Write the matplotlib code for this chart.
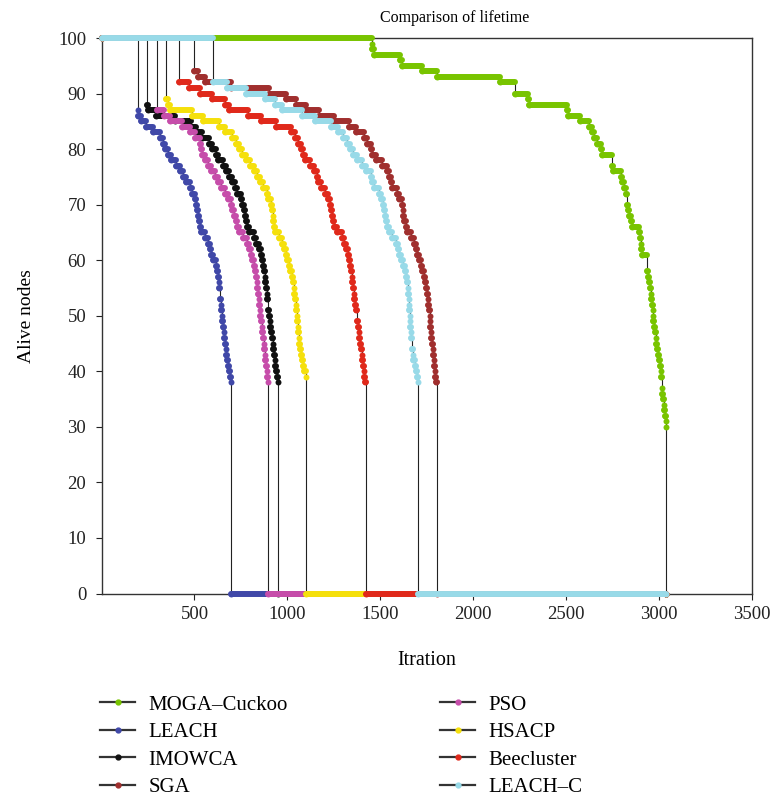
import matplotlib
matplotlib.use('Agg')
import matplotlib.pyplot as plt
from matplotlib.lines import Line2D

plt.rcParams['font.family'] = ['Liberation Serif', 'DejaVu Serif']

names = ["MOGA–Cuckoo", "LEACH", "IMOWCA", "SGA", "PSO", "HSACP", "Beecluster", "LEACH–C"]
colors = ["#78c400", "#4048a8", "#111111", "#a02f2e", "#c64daa", "#f5e00c", "#e0291b", "#98dae8"]

# rounds where the number of alive nodes changes, and the new count
moga_rounds = [1454, 1456, 1468, 1606, 1616, 1722, 1804, 2146, 2226, 2297,
               2300, 2505, 2510, 2577, 2622, 2640, 2649, 2667, 2685, 2694,
               2748, 2752, 2793, 2802, 2811, 2820, 2829, 2832, 2838, 2847,
               2856, 2892, 2897, 2901, 2904, 2910, 2937, 2943, 2947, 2950,
               2954, 2958, 2961, 2965, 2967, 2970, 2974, 2978, 2981, 2985,
               2988, 2993, 2999, 3004, 3008, 3012, 3014, 3017, 3021, 3025,
               3028, 3032, 3035, 3039]
moga_alive = [99, 98, 97, 96, 95, 94, 93, 92, 90, 89,
              88, 87, 86, 85, 84, 83, 82, 81, 80, 79,
              77, 76, 75, 74, 73, 72, 70, 69, 68, 67,
              66, 65, 64, 63, 62, 61, 58, 57, 56, 55,
              54, 53, 52, 51, 50, 49, 48, 47, 46, 45,
              44, 43, 42, 41, 40, 39, 37, 36, 35, 34,
              33, 32, 31, 30]

leach_rounds = [196, 198, 214, 241, 277, 313, 331, 340, 357, 376,
                403, 420, 438, 456, 474, 489, 501, 510, 516, 519,
                525, 531, 537, 555, 573, 582, 591, 600, 614, 621,
                627, 631, 634, 638, 641, 644, 647, 650, 654, 657,
                661, 664, 668, 672, 676, 681, 686, 691, 695]
leach_alive = [87, 86, 85, 84, 83, 82, 81, 80, 79, 78,
               77, 76, 75, 74, 73, 72, 71, 70, 69, 68,
               67, 66, 65, 64, 63, 62, 61, 60, 59, 58,
               57, 56, 55, 53, 52, 51, 50, 49, 48, 47,
               46, 45, 44, 43, 42, 41, 40, 39, 38]

imowca_rounds = [246, 250, 292, 393, 480, 508, 543, 580, 597, 614,
                 629, 651, 668, 686, 704, 720, 731, 749, 758, 765,
                 770, 775, 785, 795, 821, 832, 845, 857, 863, 869,
                 874, 878, 882, 886, 889, 892, 898, 902, 906, 909,
                 913, 917, 921, 925, 928, 931, 935, 939, 943, 947]
imowca_alive = [88, 87, 86, 85, 84, 83, 82, 81, 80, 79,
                78, 77, 76, 75, 74, 73, 72, 71, 70, 69,
                68, 67, 66, 65, 64, 63, 62, 61, 60, 59,
                58, 57, 56, 55, 54, 53, 51, 50, 49, 48,
                47, 46, 45, 44, 43, 42, 41, 40, 39, 38]

sga_rounds = [498, 518, 555, 694, 900, 990, 1044, 1098, 1170, 1251,
              1332, 1368, 1413, 1430, 1448, 1457, 1475, 1511, 1538, 1547,
              1556, 1565, 1592, 1601, 1619, 1621, 1624, 1628, 1637, 1646,
              1664, 1682, 1691, 1700, 1709, 1718, 1727, 1736, 1741, 1745,
              1750, 1756, 1759, 1761, 1765, 1766, 1770, 1772, 1775, 1779,
              1782, 1785, 1788, 1791, 1794, 1797, 1800]
sga_alive = [94, 93, 92, 91, 90, 89, 88, 87, 86, 85,
             84, 83, 82, 81, 80, 79, 78, 77, 76, 75,
             74, 73, 72, 71, 70, 69, 68, 67, 66, 65,
             64, 63, 62, 61, 60, 59, 58, 57, 56, 55,
             54, 53, 52, 51, 50, 49, 48, 47, 46, 45,
             44, 43, 42, 41, 40, 39, 38]

pso_rounds = [298, 334, 370, 433, 478, 505, 528, 537, 542, 555,
              573, 591, 609, 627, 645, 663, 681, 695, 704, 713,
              722, 730, 740, 762, 783, 794, 803, 812, 820, 825,
              830, 834, 838, 841, 845, 848, 852, 854, 857, 861,
              864, 868, 872, 875, 879, 882, 886, 890, 893, 897]
pso_alive = [87, 86, 85, 84, 83, 82, 81, 80, 79, 78,
             77, 76, 75, 74, 73, 72, 71, 70, 69, 68,
             67, 66, 65, 64, 63, 62, 61, 60, 59, 58,
             57, 56, 55, 54, 53, 52, 51, 50, 49, 48,
             47, 46, 45, 44, 43, 42, 41, 40, 39, 38]

hsacp_rounds = [349, 357, 366, 485, 548, 630, 667, 703, 726, 740,
                758, 777, 797, 820, 836, 855, 871, 888, 898, 910,
                916, 920, 924, 928, 936, 955, 972, 982, 990, 1000,
                1008, 1016, 1023, 1030, 1034, 1038, 1041, 1044, 1047, 1050,
                1053, 1056, 1059, 1062, 1065, 1068, 1073, 1078, 1083, 1090,
                1098]
hsacp_alive = [89, 88, 87, 86, 85, 84, 83, 82, 81, 80,
               79, 78, 77, 76, 75, 74, 73, 72, 71, 70,
               69, 68, 67, 66, 65, 64, 63, 62, 61, 60,
               59, 58, 57, 56, 55, 54, 53, 52, 51, 50,
               49, 48, 47, 46, 45, 44, 43, 42, 41, 40,
               39]

bee_rounds = [417, 470, 532, 597, 663, 688, 790, 860, 940, 1020,
              1040, 1058, 1076, 1085, 1094, 1122, 1144, 1157, 1166, 1180,
              1202, 1220, 1229, 1234, 1238, 1243, 1250, 1268, 1292, 1304,
              1315, 1324, 1331, 1337, 1342, 1346, 1350, 1354, 1358, 1361,
              1364, 1368, 1375, 1379, 1383, 1387, 1391, 1395, 1399, 1403,
              1407, 1411, 1415, 1419]
bee_alive = [92, 91, 90, 89, 88, 87, 86, 85, 84, 83,
             82, 81, 80, 79, 78, 77, 76, 75, 74, 73,
             72, 71, 70, 69, 68, 67, 66, 65, 64, 63,
             62, 61, 60, 59, 58, 57, 56, 55, 54, 53,
             52, 51, 49, 48, 47, 46, 45, 44, 43, 42,
             41, 40, 39, 38]

leachc_rounds = [600, 676, 775, 882, 936, 972, 1080, 1150, 1233, 1272,
                 1301, 1319, 1337, 1355, 1376, 1404, 1421, 1448, 1457, 1466,
                 1493, 1502, 1515, 1519, 1526, 1529, 1538, 1547, 1565, 1583,
                 1597, 1601, 1610, 1624, 1633, 1637, 1642, 1648, 1651, 1653,
                 1655, 1656, 1658, 1660, 1662, 1664, 1665, 1669, 1674, 1678,
                 1687, 1692, 1696, 1702]
leachc_alive = [92, 91, 90, 89, 88, 87, 86, 85, 84, 83,
                82, 81, 80, 79, 78, 77, 76, 75, 74, 73,
                72, 71, 70, 69, 68, 67, 66, 65, 64, 63,
                62, 61, 60, 59, 58, 57, 56, 55, 54, 53,
                52, 51, 50, 49, 48, 47, 46, 44, 43, 42,
                41, 40, 39, 38]

# round where the last nodes die (drop to 0) and end of the run
end_rounds = [3040, 697, 948, 1804, 898, 1100, 1421, 1704]
last_round = 3040
n_nodes = 100

all_rounds = [moga_rounds, leach_rounds, imowca_rounds, sga_rounds,
              pso_rounds, hsacp_rounds, bee_rounds, leachc_rounds]
all_alive = [moga_alive, leach_alive, imowca_alive, sga_alive,
             pso_alive, hsacp_alive, bee_alive, leachc_alive]

fig = plt.figure(figsize=(7.75, 7.97), dpi=100)
ax = fig.add_axes([0.131, 0.2553, 0.8393, 0.697])

for i in range(len(names)):
    xs = [0] + all_rounds[i] + [end_rounds[i], last_round]
    ys = [n_nodes] + all_alive[i] + [0, 0]
    z = 3 + i
    ax.plot(xs, ys, drawstyle='steps-post', color='#222222', lw=0.8,
            zorder=z, clip_on=False)
    ax.hlines(ys[:-1], xs[:-1], xs[1:], colors=colors[i], lw=4.3,
              capstyle='round', zorder=z, clip_on=False)
    ax.plot(xs, ys, 'o', color=colors[i], ms=4.3, mec=colors[i], mew=0,
            zorder=z, clip_on=False)

ax.set_xlim(0, 3500)
ax.set_ylim(0, 100)
ax.set_xticks([500, 1000, 1500, 2000, 2500, 3000, 3500])
ax.set_yticks(range(0, 101, 10))
ax.tick_params(direction='out', length=4, width=0.8, labelsize=13.5,
               colors='#222222')
ax.tick_params(axis='y', pad=7)
ax.tick_params(axis='x', pad=5)
for s in ax.spines.values():
    s.set_linewidth(1.0)
    s.set_color('#333333')

ax.set_xlabel("Itration", fontsize=14.5, labelpad=20)
ax.set_ylabel("Alive nodes", fontsize=14, labelpad=17)
fig.text(455 / 775, 1 - 18 / 797, "Comparison of lifetime", fontsize=11.5,
         ha='center', va='center')

handles = [Line2D([], [], color='#333333', lw=1.6, marker='o', ms=3.5,
                  mfc=c, mec=c) for c in colors]
fig.legend(handles[:4], names[:4], loc='upper left',
           bbox_to_anchor=(100 / 775, 1 - 695 / 797), frameon=False,
           fontsize=15, handlelength=1.7, handletextpad=0.62,
           labelspacing=0.38, borderpad=0, borderaxespad=0)
fig.legend(handles[4:], names[4:], loc='upper left',
           bbox_to_anchor=(440 / 775, 1 - 695 / 797), frameon=False,
           fontsize=15, handlelength=1.7, handletextpad=0.62,
           labelspacing=0.38, borderpad=0, borderaxespad=0)

fig.savefig("out.png", dpi=100)
plt.close()
